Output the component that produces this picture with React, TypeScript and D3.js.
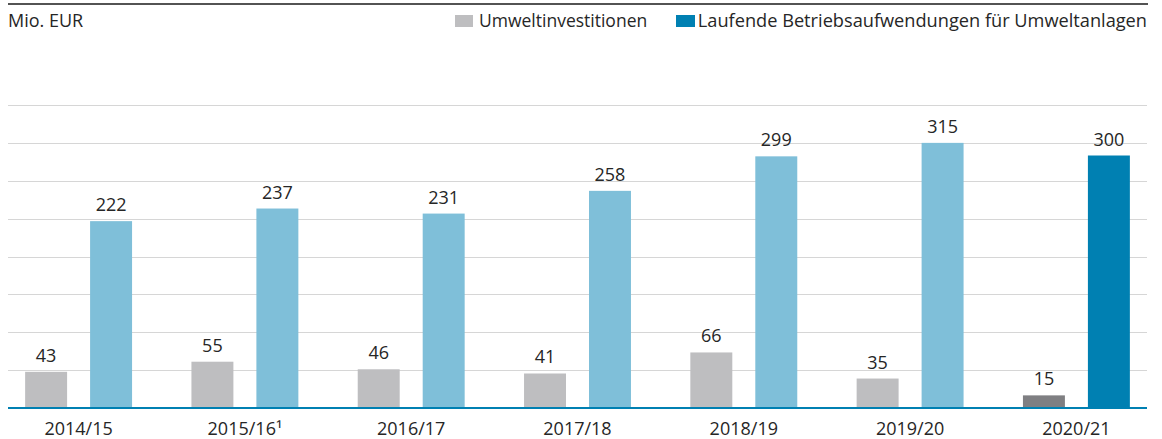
import React from "react";
import * as d3 from "d3";

const categories = ["2014/15", "2015/16¹", "2016/17", "2017/18", "2018/19", "2019/20", "2020/21"];
const investments = [43, 55, 46, 41, 66, 35, 15];
const operatingCosts = [222, 237, 231, 258, 299, 315, 300];
const gridTicks = [45, 90, 135, 180, 225, 270, 315, 360];
const seriesNames = ["Umweltinvestitionen", "Laufende Betriebsaufwendungen für Umweltanlagen"];

const W = 1162;
const H = 439;
const FONT = "'Open Sans', Lato, sans-serif";
const TEXT = "#262626";
const GRAY = "#bebec0";
const GRAY_DARK = "#7f7f82";
const BLUE_LIGHT = "#7fbfd9";
const BLUE_DARK = "#0080b2";
const FS = 18;

export default function App() {
  const left = 8;
  const right = 1147;
  const y = d3.scaleLinear().domain([0, 360]).range([408, 105]);
  const x = d3
    .scaleBand<string>()
    .domain(categories)
    .range([left, right])
    .paddingInner(0.357)
    .paddingOuter(0.103);
  const inner = d3
    .scaleBand<string>()
    .domain(["inv", "op"])
    .range([0, x.bandwidth()])
    .paddingInner(0.354)
    .paddingOuter(0);
  const last = categories.length - 1;

  return (
    <svg
      width={W}
      height={H}
      style={{ position: "absolute", left: 0, top: 0, background: "#fff" }}
      fontFamily={FONT}
      fontWeight={400}
    >
      <line x1={left} x2={1148} y1={4} y2={4} stroke="#1a1a1a" strokeWidth={1.5} />
      <text x={left} y={27} fontSize={FS} fill={TEXT}>
        Mio. EUR
      </text>
      {/* legend */}
      <rect x={455} y={15} width={18} height={12} fill={GRAY} />
      <text x={479} y={27} fontSize={FS - 0.5} fill={TEXT}>
        {seriesNames[0]}
      </text>
      <rect x={676} y={15} width={19} height={12} fill={BLUE_DARK} />
      <text x={1147} y={27} fontSize={FS + 0.2} fill={TEXT} textAnchor="end">
        {seriesNames[1]}
      </text>
      {/* grid */}
      {gridTicks.map((t) => (
        <line
          key={t}
          x1={left}
          x2={right}
          y1={Math.round(y(t)) + 0.5}
          y2={Math.round(y(t)) + 0.5}
          stroke="#d6d6d6"
          strokeWidth={1}
        />
      ))}
      {categories.map((c, i) => {
        const gx = x(c)!;
        const xi = gx + inner("inv")!;
        const xo = gx + inner("op")!;
        const bw = inner.bandwidth();
        const isLast = i === last;
        return (
          <g key={c}>
            <rect
              x={xi}
              y={y(investments[i])}
              width={bw}
              height={y(0) - y(investments[i])}
              fill={isLast ? GRAY_DARK : GRAY}
            />
            <rect
              x={xo}
              y={y(operatingCosts[i])}
              width={bw}
              height={y(0) - y(operatingCosts[i])}
              fill={isLast ? BLUE_DARK : BLUE_LIGHT}
            />
            <text
              x={xi + bw / 2}
              y={y(investments[i]) - 10}
              textAnchor="middle"
              fontSize={FS}
              fill={TEXT}
            >
              {investments[i]}
            </text>
            <text
              x={xo + bw / 2}
              y={y(operatingCosts[i]) - 10}
              textAnchor="middle"
              fontSize={FS}
              fill={TEXT}
            >
              {operatingCosts[i]}
            </text>
            <text
              x={gx + x.bandwidth() / 2}
              y={435}
              textAnchor="middle"
              fontSize={FS}
              fill={TEXT}
            >
              {c}
            </text>
          </g>
        );
      })}
      <line x1={left} x2={right} y1={408} y2={408} stroke={BLUE_DARK} strokeWidth={2} />
    </svg>
  );
}
